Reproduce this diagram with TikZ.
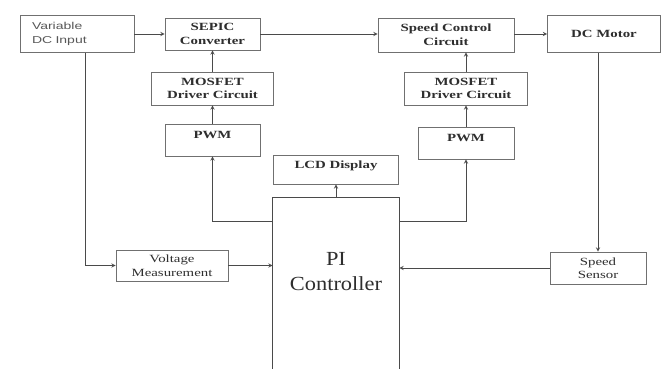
\documentclass[tikz,border=0pt]{standalone}
\usepackage{fontspec}
\setmainfont{Liberation Serif}
\newfontfamily\boxfont[FakeStretch=1.35]{Liberation Serif}
\newfontfamily\inputfont[FakeStretch=1.4]{Liberation Sans}
\newfontfamily\pifont[FakeStretch=1.12]{Liberation Serif}
\usetikzlibrary{arrows}

\definecolor{linegray}{HTML}{4A4A4A}
\definecolor{boxgray}{HTML}{707070}
\definecolor{ink}{HTML}{2E2E2E}

\begin{document}
\begin{tikzpicture}[
            x = 1pt, y = -1pt, % one unit per pixel, y runs down
            > = stealth, % arrow head style
            line width = 0.9pt,
            draw = linegray
        ]

        \tikzstyle{block}=[
            draw = boxgray,
            line width = 0.8pt,
            fill = white,
            text = ink,
            align = center,
            inner sep = 1pt,
            font = \boxfont\bfseries\fontsize{11}{13.5}\selectfont
        ]
        \tikzstyle{plain}=[font = \boxfont\fontsize{11}{13.5}\selectfont]
        \tikzstyle{raised}=[text depth = 10pt]

        \path[use as bounding box, fill = white] (0,0) rectangle (665,369);

        % top row
        \node[block, minimum width = 114pt, minimum height = 37pt, align = left, text width = 90pt,
              font = \inputfont\fontsize{10}{14}\selectfont, text = ink!80] (input) at (77,34) {Variable\\DC Input};
        \node[block, minimum width = 95pt, minimum height = 32pt] (sepic) at (212.5,34) {SEPIC\\Converter};
        \node[block, minimum width = 136pt, minimum height = 34pt] (speed) at (446,35) {Speed Control\\Circuit};
        \node[block, minimum width = 113pt, minimum height = 37pt] (motor) at (604,34) {DC Motor};

        % driver columns
        \node[block, minimum width = 122pt, minimum height = 33pt] (drvL) at (212.5,88.5) {MOSFET\\Driver Circuit};
        \node[block, minimum width = 95pt, minimum height = 32pt, raised] (pwmL) at (212.5,140) {PWM};
        \node[block, minimum width = 123pt, minimum height = 33pt] (drvR) at (466,88.5) {MOSFET\\Driver Circuit};
        \node[block, minimum width = 96pt, minimum height = 32pt, raised] (pwmR) at (466,143) {PWM};

        % controller
        \node[block, minimum width = 125pt, minimum height = 29pt, raised] (lcd) at (336,169.5) {LCD Display};
        \node[block, draw = none, fill = none, minimum width = 126pt, minimum height = 148pt,
              font = \pifont\fontsize{20}{25}\selectfont] (pi) at (336,272) {PI\\Controller};
        \draw ([yshift=-40pt]pi.south west) |- (pi.north east) -- ([yshift=-40pt]pi.south east);

        % measurements
        \node[block, plain, minimum width = 112pt, minimum height = 31pt] (volt) at (172,265.5) {Voltage\\Measurement};
        \node[block, plain, minimum width = 96pt, minimum height = 32pt] (sensor) at (598,268) {Speed\\Sensor};

        \path[->] (input) edge (sepic);
        \path[->] (sepic) edge (sepic -| speed.west);
        \path[->] (speed.east |- motor) edge (motor);
        \path[->] (pwmL) edge (drvL);
        \path[->] (drvL) edge (sepic);
        \path[->] (pwmR) edge (drvR);
        \path[->] (drvR) edge (drvR |- speed.south);
        \path[->] (motor.south -| sensor) edge (sensor);
        \path[->] (sensor) edge (sensor -| pi.east);
        \draw[->] ([xshift=8pt]input.south) |- (volt);
        \path[->] (volt) edge (volt -| pi.west);
        \draw[->] ([yshift=-24pt]pi.north west) -| (pwmL);
        \draw[->] ([yshift=-24pt]pi.north east) -| (pwmR);
        \path[->] (pi) edge (lcd);

  \end{tikzpicture}
\end{document}
